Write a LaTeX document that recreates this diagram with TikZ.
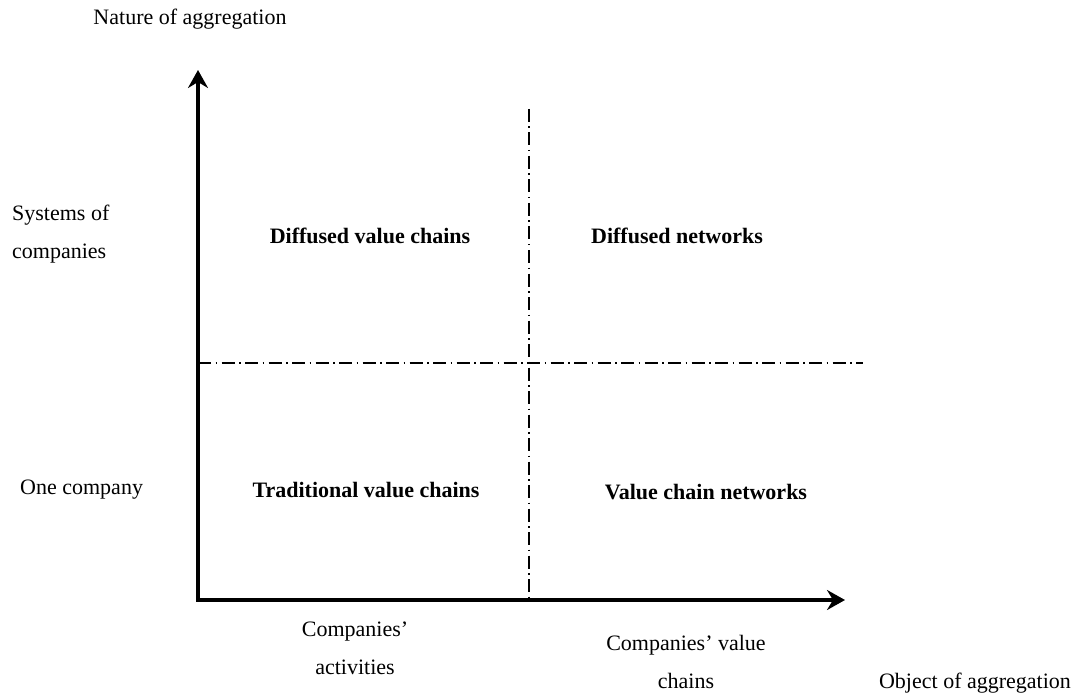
\documentclass[tikz,border=0pt]{standalone}
\usepackage{fontspec}
\setmainfont{Liberation Serif}
\usetikzlibrary{arrows.meta,positioning}

\begin{document}
\begin{tikzpicture}[x=1pt, y=-1pt,
        axis/.style={line width=3.8pt, line join=miter,
          {Stealth[length=18pt,width=20pt,inset=6pt]}-{Stealth[length=18pt,width=20pt,inset=6pt]}},
        divider/.style={line width=1.2pt, dash pattern=on 13pt off 4.5pt on 1.5pt off 4.5pt},
        lbl/.style={font=\fontsize{22}{38}\selectfont, align=center, inner sep=0pt},
        quad/.style={font=\fontsize{22}{26}\selectfont\bfseries, inner sep=0pt}
        ]
        \useasboundingbox (0,0) rectangle (1071,695);
        \coordinate (ytop) at (198,70);
        \coordinate (O) at (198,600);
        \coordinate (xend) at (845,600);
        \coordinate (vtop) at (529,109);
        \coordinate (vbot) at (529,600);
        \coordinate (hleft) at (198,363);
        \coordinate (hright) at (863,363);
        \draw[divider] (vtop) -- (vbot);
        \draw[divider] (hleft) -- (hright);
        \draw[axis] (ytop) -- (O) -- (xend);
        % axis titles
        \node[lbl] (nature) at (190,19) {Nature of aggregation};
        \node[lbl] (object) at (975,683) {Object of aggregation};
        % y labels
        \node[lbl, anchor=west, align=left] (systems) at (12,234.5) {Systems of\\companies};
        \node[lbl, anchor=west] (one) at (20,490) {One company};
        % x labels
        \node[lbl] (activities) at (355,648) {Companies'\\activities};
        \node[lbl] (chains) at (686,662) {Companies' value\\chains};
        % quadrants
        \node[quad] (dvc) at (370,236) {Diffused value chains};
        \node[quad] (dnet) at (677,236) {Diffused networks};
        \node[quad] (tvc) at (366,490) {Traditional value chains};
        \node[quad] (vcn) at (706,492) {Value chain networks};
      \end{tikzpicture}
\end{document}
